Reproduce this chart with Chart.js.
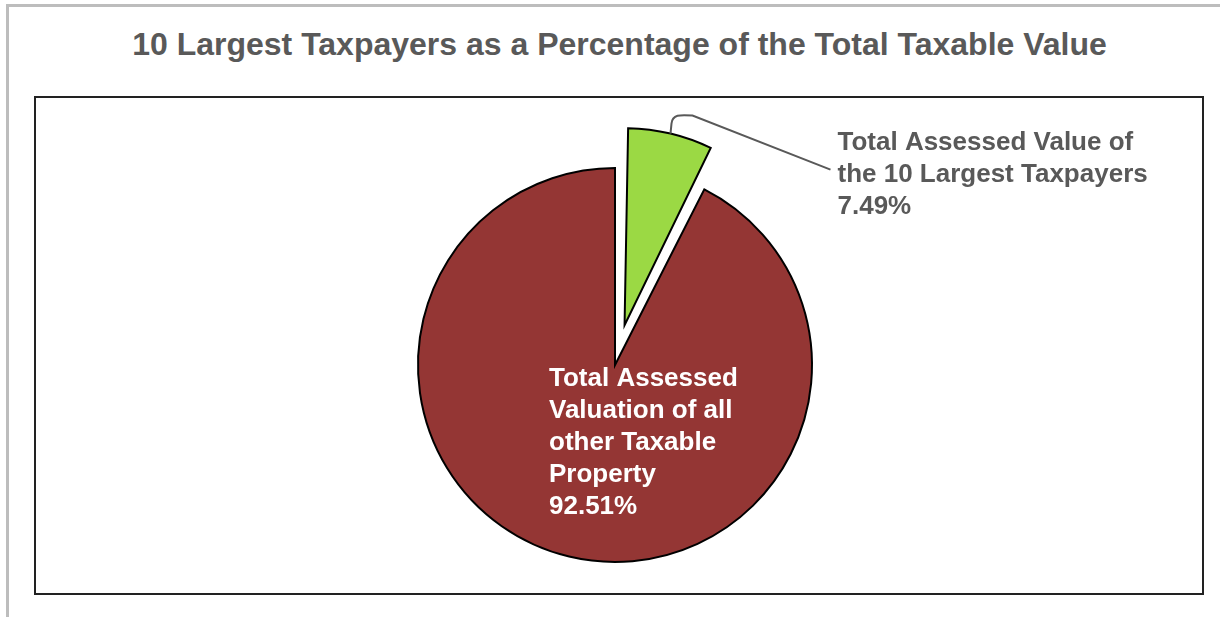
<!DOCTYPE html>
<html>
<head>
<meta charset="utf-8">
<title>10 Largest Taxpayers</title>
<script src="https://cdn.jsdelivr.net/npm/chart.js@4.4.1/dist/chart.umd.min.js"></script>
<style>
  html, body { margin: 0; padding: 0; background: #fff; }
  body { width: 1220px; height: 617px; position: relative; overflow: hidden; }
  .edgeTop { position: absolute; left: 6px; right: 0; top: 4px; height: 3px; background: #bdbdbd; }
  .edgeLeft { position: absolute; left: 6px; top: 4px; bottom: 0; width: 3px; background: #bdbdbd; }
  .plotBox { position: absolute; left: 34px; top: 96px; width: 1170px; height: 499px;
             box-sizing: border-box; border: 2px solid #222; }
  .title { position: absolute; left: 0; width: 1239px; top: 26px; text-align: center;
           font: bold 32px "Liberation Sans", Arial, sans-serif; color: #595959; white-space: nowrap; }
  #myChart { position: absolute; left: 0; top: 0; }
</style>
</head>
<body>
<div class="edgeTop"></div>
<div class="edgeLeft"></div>
<div class="plotBox"></div>
<div class="title">10 Largest Taxpayers as a Percentage of the Total Taxable Value</div>
<canvas id="myChart" width="1220" height="617"></canvas>
<script>
// slices, clockwise from 12 o'clock
let sliceNames = [
    ['Total Assessed Value of', 'the 10 Largest Taxpayers'],
    ['Total Assessed', 'Valuation of all', 'other Taxable', 'Property']
];
let slicePercents = [7.49, 92.51];

const labelFont = 'bold 26px "Liberation Sans", Arial, sans-serif';

function sliceText(i) {
    return sliceNames[i].concat([slicePercents[i].toFixed(2) + '%']);
}

// draws the slice labels (one outside with a leader line, one inside)
const sliceLabels = {
    id: 'sliceLabels',
    beforeDatasetsDraw(chart) {
        // an offset arc gets drawn a bit larger by Chart.js, keep it at the pie radius
        let meta = chart.getDatasetMeta(0);
        meta.data.forEach(arc => {
            let shift = (arc.options.offset || 0) / 4;
            let fix = 1 - Math.sin(Math.min(Math.PI, arc.circumference));
            arc.outerRadius = meta.controller.outerRadius - shift * fix;
        });
    },
    afterDatasetsDraw(chart) {
        let ctx = chart.ctx;
        let meta = chart.getDatasetMeta(0);
        let R = meta.controller.outerRadius;

        // exploded slice: label to the right, leader from the outer edge
        let arc = meta.data[0];
        let mid = (arc.startAngle + arc.endAngle) / 2;
        let shift = (arc.options.offset || 0) / 4;
        let sx = arc.x + Math.cos(mid) * (shift + R);
        let sy = arc.y + Math.sin(mid) * (shift + R);

        ctx.save();
        ctx.strokeStyle = '#595959';
        ctx.lineWidth = 2;
        ctx.beginPath();
        ctx.moveTo(sx, sy);
        ctx.lineTo(sx + 1, sy - 10);
        ctx.bezierCurveTo(sx + 2, sy - 19, sx + 9, sy - 19, sx + 22, sy - 18);
        ctx.lineTo(sx + 160, sy + 36);
        ctx.stroke();

        ctx.font = labelFont;
        ctx.fillStyle = '#595959';
        ctx.textAlign = 'left';
        ctx.textBaseline = 'alphabetic';
        sliceText(0).forEach((line, k) => {
            ctx.fillText(line, sx + 167, sy + 16 + k * 32);
        });

        // big slice: white label inside
        let big = meta.data[1];
        ctx.fillStyle = '#ffffff';
        sliceText(1).forEach((line, k) => {
            ctx.fillText(line, big.x - 66, big.y + 21 + k * 32);
        });
        ctx.restore();
    }
};

var ctx = document.getElementById('myChart').getContext('2d');
var chart = new Chart(ctx, {
    type: 'pie',
    data: {
        labels: sliceNames.map(n => n.join(' ')),
        datasets: [{
            data: slicePercents,
            backgroundColor: ['#9bd944', '#943634'],
            borderColor: '#000000',
            borderWidth: 2,
            borderJoinStyle: 'miter',
            offset: [164, 0]
        }]
    },
    options: {
        responsive: false,
        animation: false,
        events: [],
        radius: 197,
        layout: { padding: { left: 10, right: 0, top: 150, bottom: 37 } },
        plugins: {
            legend: { display: false },
            tooltip: { enabled: false },
            title: { display: false }
        }
    },
    plugins: [sliceLabels]
});
</script>
</body>
</html>
